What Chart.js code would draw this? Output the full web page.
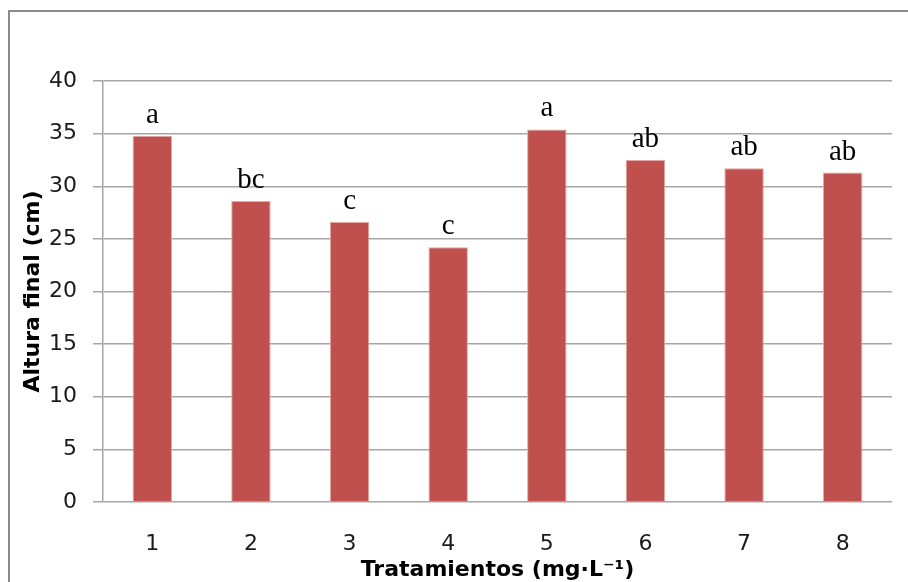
<!DOCTYPE html>
<html>
<head>
<meta charset="utf-8">
<script src="https://cdn.jsdelivr.net/npm/chart.js@4"></script>
<style>
  html, body { margin: 0; padding: 0; background: #fff; }
  #wrap { position: relative; width: 908px; height: 582px; }
</style>
</head>
<body>
<div id="wrap"><canvas id="myChart" width="908" height="582"></canvas></div>
<script>
var tratamientos = ['1', '2', '3', '4', '5', '6', '7', '8'];
var alturaFinal = [34.8, 28.6, 26.6, 24.2, 35.4, 32.5, 31.7, 31.3];
var letras = ['a', 'bc', 'c', 'c', 'a', 'ab', 'ab', 'ab'];
var yTicks = [0, 5, 10, 15, 20, 25, 30, 35, 40];

var barColor = '#C0504D';
var gridColor = '#a6a6a6';

// outer frame (left and top edges only, the rest is cropped)
var framePlugin = {
    id: 'frame',
    beforeDraw: function (chart) {
        var ctx = chart.ctx;
        ctx.save();
        ctx.fillStyle = '#fff';
        ctx.fillRect(0, 0, chart.width, chart.height);
        ctx.strokeStyle = '#8c8c8c';
        ctx.lineWidth = 2;
        ctx.beginPath();
        ctx.moveTo(9, chart.height);
        ctx.lineTo(9, 11);
        ctx.lineTo(chart.width, 11);
        ctx.stroke();
        ctx.restore();
    }
};

// significance letters over the bars
var letrasPlugin = {
    id: 'letras',
    afterDatasetsDraw: function (chart) {
        var ctx = chart.ctx;
        var meta = chart.getDatasetMeta(0);
        ctx.save();
        ctx.font = '29px "Liberation Serif", "Times New Roman", serif';
        ctx.fillStyle = '#000';
        ctx.textAlign = 'center';
        ctx.textBaseline = 'alphabetic';
        meta.data.forEach(function (bar, i) {
            ctx.fillText(letras[i], bar.x, bar.y - 13);
        });
        ctx.restore();
    }
};

var tickFont = { family: '"DejaVu Sans", sans-serif', size: 22 };
var titleFont = { family: '"DejaVu Sans", sans-serif', size: 22, weight: 'bold' };

var canvas = document.getElementById('myChart');
var ctx = canvas.getContext('2d');
var myChart = new Chart(ctx, {
    type: 'bar',
    data: {
        labels: tratamientos,
        datasets: [{
            data: alturaFinal,
            backgroundColor: barColor,
            borderColor: '#e3a9a7',
            borderWidth: 1,
            categoryPercentage: 1,
            barPercentage: 0.4
        }]
    },
    options: {
        responsive: false,
        animation: false,
        layout: {
            padding: { top: 81, right: 16, bottom: 0, left: 0 }
        },
        plugins: {
            legend: { display: false },
            tooltip: { enabled: false }
        },
        scales: {
            x: {
                grid: { display: false, drawTicks: false },
                border: { display: false },
                ticks: {
                    color: '#1a1a1a',
                    padding: 29,
                    maxRotation: 0,
                    font: tickFont
                },
                title: {
                    display: true,
                    text: 'Tratamientos (mg·L⁻¹)',
                    color: '#000',
                    padding: { top: 0, bottom: -1 },
                    font: titleFont
                },
                afterFit: function (scale) { scale.height = 80; }
            },
            y: {
                min: 0,
                max: 40,
                afterBuildTicks: function (scale) {
                    scale.ticks = yTicks.map(function (v) { return { value: v }; });
                },
                grid: { color: gridColor, lineWidth: 1.5, tickLength: 10 },
                border: { display: true, color: gridColor, width: 1.5 },
                ticks: {
                    color: '#1a1a1a',
                    padding: 16,
                    font: tickFont
                },
                title: {
                    display: true,
                    text: 'Altura final (cm)',
                    color: '#000',
                    padding: { top: 20, bottom: 0 },
                    font: titleFont
                },
                afterFit: function (scale) { scale.width = 103; }
            }
        }
    },
    plugins: [framePlugin, letrasPlugin]
});
</script>
</body>
</html>
